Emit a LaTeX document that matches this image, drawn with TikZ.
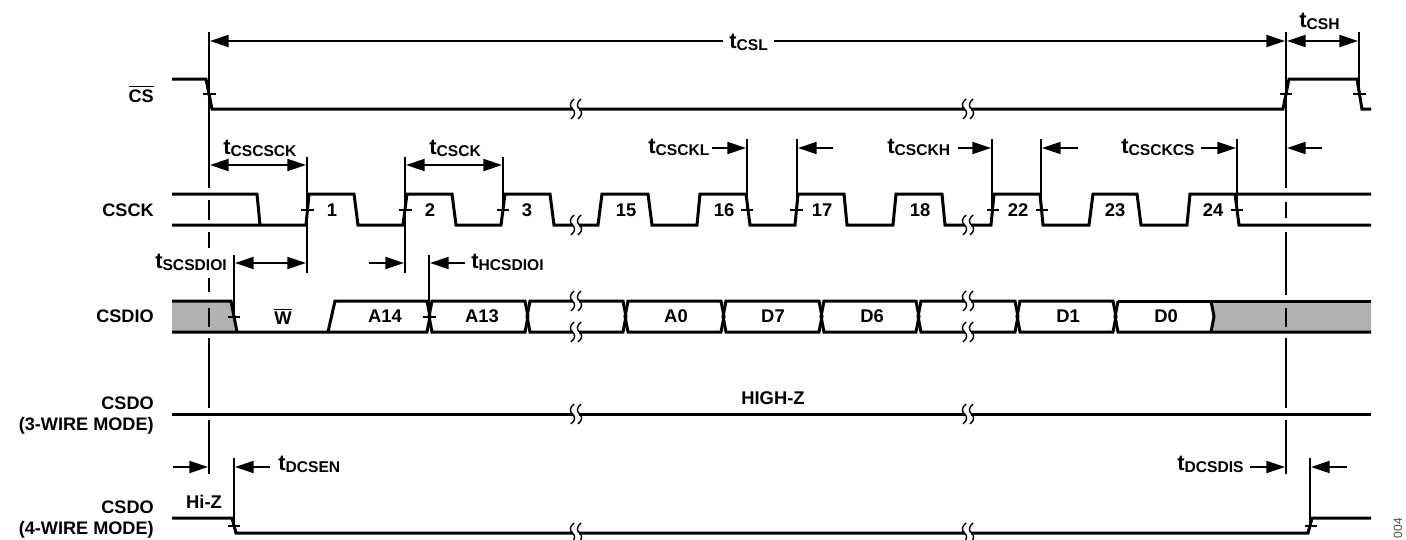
\documentclass[tikz,border=0pt]{standalone}
\usepackage{fontspec}
\usepackage{amsmath}
\setmainfont{Liberation Sans}
\usetikzlibrary{arrows.meta}

\newcommand{\tname}[1]{{\fontsize{16.5}{18}\selectfont t}\raisebox{-1.5pt}{\fontsize{11.7}{12}\selectfont #1}}

\tikzset{
    sig/.style = {line width = 2.25pt, line cap = butt, line join = miter},
    guide/.style = {line width = 0.95pt},
    edgemark/.style = {line width = 0.95pt},
    dim/.style = {line width = 1.5pt},
    timing/.style = {anchor = base west, inner sep = 0pt},
    txt/.style = {font = \bfseries\fontsize{13.8}{15}\selectfont, inner sep = 0pt},
    signame/.style = {font = \bfseries\fontsize{13.6}{15.75}\selectfont, inner sep = 0pt, align = right, anchor = east},
    brk/.pic = {
        \fill[white] (-3, -5) rectangle (3, 5);
        \draw[line width = 1.05pt] (-2, -10) .. controls (-7, -6) and (-6, -2) .. (-3.5, 0) .. controls (-1, 2) and (0, 6) .. (-5, 10);
        \draw[line width = 1.05pt] (5, -10) .. controls (0, -6) and (1, -2) .. (3.5, 0) .. controls (6, 2) and (7, 6) .. (2, 10);
    }
}

\begin{document}
\begin{tikzpicture}[x = 0.75pt, y = -0.75pt, >={Triangle[length = 14pt, width = 9pt]}]
        \useasboundingbox (0, 0) rectangle (1406, 539);

        % grey parts of the data line
        \fill[black!30] (172, 301) -- (231, 301) -- (237, 332) -- (172, 332) -- cycle;
        \fill[black!30] (1211, 301) -- (1371, 301) -- (1371, 332) -- (1211, 332) -- (1214, 316.5) -- cycle;

        % guide lines
        \draw[guide] (209, 32) -- (209, 188) (209, 200) -- (209, 220) (209, 232) -- (209, 248) (209, 278) -- (209, 292) (209, 308) -- (209, 327) (209, 338) -- (209, 408) (209, 420) -- (209, 474);
        \draw[guide] (1286, 32) -- (1286, 188) (1286, 202) -- (1286, 218) (1286, 232) -- (1286, 295) (1286, 308) -- (1286, 327) (1286, 338) -- (1286, 408) (1286, 420) -- (1286, 474);
        \draw[guide] (1359, 32) -- (1359, 94);
        \draw[guide] (307, 157) -- (307, 273);
        \draw[guide] (405, 157) -- (405, 273);
        \draw[guide] (503, 157) -- (503, 210);
        \draw[guide] (747, 139) -- (747, 210);
        \draw[guide] (797, 139) -- (797, 210);
        \draw[guide] (992, 139) -- (992, 210);
        \draw[guide] (1041, 139) -- (1041, 210);
        \draw[guide] (1237, 139) -- (1237, 210);
        \draw[guide] (234, 255) -- (234, 317);
        \draw[guide] (429, 255) -- (429, 317);
        \draw[guide] (234, 458) -- (234, 526);
        \draw[guide] (1310, 458) -- (1310, 526);

        % chip select
        \draw[sig] (172, 79) -- (206, 79) -- (212, 109) -- (1283, 109) -- (1289, 79) -- (1357, 79) -- (1362, 109) -- (1371, 109);

        % clock
        \draw[sig] (172, 194) -- (257, 194) -- (260, 225);
        \draw[sig] (172, 225) -- (306, 225) -- (309, 194) -- (354, 194) -- (358, 225) -- (403, 225) -- (407, 194) -- (452, 194) -- (456, 225) -- (501, 225) -- (505, 194) -- (550, 194) -- (554, 225) -- (598, 225) -- (602, 194) -- (648, 194) -- (652, 225) -- (697, 225) -- (700, 194) -- (746, 194) -- (750, 225) -- (795, 225) -- (798, 194) -- (844, 194) -- (847, 225) -- (893, 225) -- (896, 194) -- (942, 194) -- (945, 225) -- (991, 225) -- (994, 194) -- (1040, 194) -- (1043, 225) -- (1089, 225) -- (1093, 194) -- (1137, 194) -- (1141, 225) -- (1187, 225) -- (1190, 194) -- (1371, 194);
        \draw[sig] (1235, 194) -- (1239, 225) -- (1371, 225);

        % data in
        \draw[sig] (172, 301) -- (231, 301) -- (237, 332);
        \draw[sig] (172, 332) -- (328, 332) -- (335, 301) -- (427, 301) -- (430, 316.5) -- (427, 332) -- (328, 332);
        \draw[sig] (432, 301) -- (429, 316.5) -- (432, 332) -- (525, 332) -- (528, 316.5) -- (525, 301) -- cycle;
        \draw[sig] (530, 301) -- (527, 316.5) -- (530, 332) -- (623, 332) -- (626, 316.5) -- (623, 301) -- cycle;
        \draw[sig] (628, 301) -- (625, 316.5) -- (628, 332) -- (721, 332) -- (724, 316.5) -- (721, 301) -- cycle;
        \draw[sig] (726, 301) -- (723, 316.5) -- (726, 332) -- (819, 332) -- (822, 316.5) -- (819, 301) -- cycle;
        \draw[sig] (824, 301) -- (821, 316.5) -- (824, 332) -- (916, 332) -- (919, 316.5) -- (916, 301) -- cycle;
        \draw[sig] (921, 301) -- (918, 316.5) -- (921, 332) -- (1015, 332) -- (1018, 316.5) -- (1015, 301) -- cycle;
        \draw[sig] (1020, 301) -- (1017, 316.5) -- (1020, 332) -- (1113, 332) -- (1116, 316.5) -- (1113, 301) -- cycle;
        \draw[sig] (1118, 301) -- (1115, 316.5) -- (1118, 332) -- (1371, 332);
        \draw[sig] (1118, 301) -- (1371, 301);
        \draw[sig] (1211, 301) -- (1214, 316.5) -- (1211, 332);

        % data out
        \draw[sig] (172, 414) -- (1371, 414);
        \draw[sig] (172, 518) -- (232, 518) -- (236, 533) -- (1308, 533) -- (1312, 518) -- (1371, 518);

        % small crossings on the edges
        \draw[edgemark] (203, 94) -- (216, 94);
        \draw[edgemark] (1280, 94) -- (1292, 94);
        \draw[edgemark] (1353, 94) -- (1366, 94);
        \draw[edgemark] (301, 210) -- (314, 210);
        \draw[edgemark] (399, 210) -- (412, 210);
        \draw[edgemark] (497, 210) -- (509, 210);
        \draw[edgemark] (741, 210) -- (753, 210);
        \draw[edgemark] (790, 210) -- (803, 210);
        \draw[edgemark] (987, 210) -- (999, 210);
        \draw[edgemark] (1036, 210) -- (1048, 210);
        \draw[edgemark] (1231, 210) -- (1243, 210);
        \draw[edgemark] (228, 317) -- (240, 317);
        \draw[edgemark] (423, 317) -- (436, 317);
        \draw[edgemark] (228, 526) -- (240, 526);
        \draw[edgemark] (1305, 526) -- (1317, 526);

        % breaks in the time axis
        \pic at (576, 109) {brk};
        \pic at (968, 109) {brk};
        \pic at (576, 225) {brk};
        \pic at (968, 225) {brk};
        \pic at (576, 301) {brk};
        \pic at (968, 301) {brk};
        \pic at (576, 332) {brk};
        \pic at (968, 332) {brk};
        \pic at (576, 414) {brk};
        \pic at (968, 414) {brk};
        \pic at (576, 533) {brk};
        \pic at (968, 533) {brk};

        % timing arrows
        \draw[dim, <->] (210, 41) -- (1285, 41);
        \draw[dim, <->] (1287, 41) -- (1358, 41);
        \draw[dim, <->] (210, 165) -- (306, 165);
        \draw[dim, <->] (406, 165) -- (502, 165);
        \draw[dim, ->] (712, 148) -- (746, 148);
        \draw[dim, ->] (833, 148) -- (798, 148);
        \draw[dim, ->] (958, 148) -- (991, 148);
        \draw[dim, ->] (1078, 148) -- (1042, 148);
        \draw[dim, ->] (1201, 148) -- (1236, 148);
        \draw[dim, ->] (1322, 148) -- (1287, 148);
        \draw[dim, <->] (235, 263) -- (306, 263);
        \draw[dim, ->] (369, 263) -- (404, 263);
        \draw[dim, ->] (465, 263) -- (430, 263);
        \draw[dim, ->] (173, 467) -- (208, 467);
        \draw[dim, ->] (270, 467) -- (235, 467);
        \draw[dim, ->] (1250, 467) -- (1285, 467);
        \draw[dim, ->] (1347, 467) -- (1311, 467);

        % timing names
        \node (tcsl) at (729, 48) [timing, fill = white, inner xsep = 5pt, xshift = -5pt] {\bfseries\tname{CSL}};
        \node (tcsh) at (1299, 27) [timing] {\bfseries\tname{CSH}};
        \node (tcscsck) at (223, 154) [timing] {\bfseries\tname{CSCSCK}};
        \node (tcsck) at (429, 154) [timing] {\bfseries\tname{CSCK}};
        \node (tcsckl) at (648, 153) [timing] {\bfseries\tname{CSCKL}};
        \node (tcsckh) at (887, 153) [timing] {\bfseries\tname{CSCKH}};
        \node (tcsckcs) at (1121, 153) [timing] {\bfseries\tname{CSCKCS}};
        \node (tscsdioi) at (155, 268) [timing] {\bfseries\tname{SCSDIOI}};
        \node (thcsdioi) at (471, 268) [timing] {\bfseries\tname{HCSDIOI}};
        \node (tdcsen) at (278, 470) [timing] {\bfseries\tname{DCSEN}};
        \node (tdcsdis) at (1177, 470) [timing] {\bfseries\tname{DCSDIS}};

        % signal names
        \node (cs) at (154, 94) [signame] {$\overline{\hbox{CS}}$};
        \node (csck) at (154, 210) [signame] {CSCK};
        \node (csdio) at (154, 316) [signame] {CSDIO};
        \node (csdothree) at (154, 415.5) [signame] {CSDO\\(3-WIRE MODE)};
        \node (csdofour) at (154, 519.5) [signame] {CSDO\\(4-WIRE MODE)};

        % clock counts
        \node (c1) at (332, 210) [txt] {1};
        \node (c2) at (430, 210) [txt] {2};
        \node (c3) at (527, 210) [txt] {3};
        \node (c15) at (626, 210) [txt] {15};
        \node (c16) at (724, 210) [txt] {16};
        \node (c17) at (822, 210) [txt] {17};
        \node (c18) at (920, 210) [txt] {18};
        \node (c22) at (1018, 210) [txt] {22};
        \node (c23) at (1115, 210) [txt] {23};
        \node (c24) at (1213, 210) [txt] {24};

        % bit names
        \node (bw) at (283, 316) [txt] {$\overline{\hbox{W}}$};
        \node (a14) at (385, 316) [txt] {A14};
        \node (a13) at (482, 316) [txt] {A13};
        \node (a0) at (676, 316) [txt] {A0};
        \node (d7) at (773, 316) [txt] {D7};
        \node (d6) at (872, 316) [txt] {D6};
        \node (d1) at (1068, 316) [txt] {D1};
        \node (d0) at (1166, 316) [txt] {D0};
        \node (highz) at (773, 398) [txt] {HIGH-Z};
        \node (hiz) at (204, 502) [txt] {Hi-Z};
        \node (figno) at (1398, 528) [rotate = 90, inner sep = 0pt, text = black!70, font = \fontsize{9}{10}\selectfont] {004};
    \end{tikzpicture}
\end{document}
